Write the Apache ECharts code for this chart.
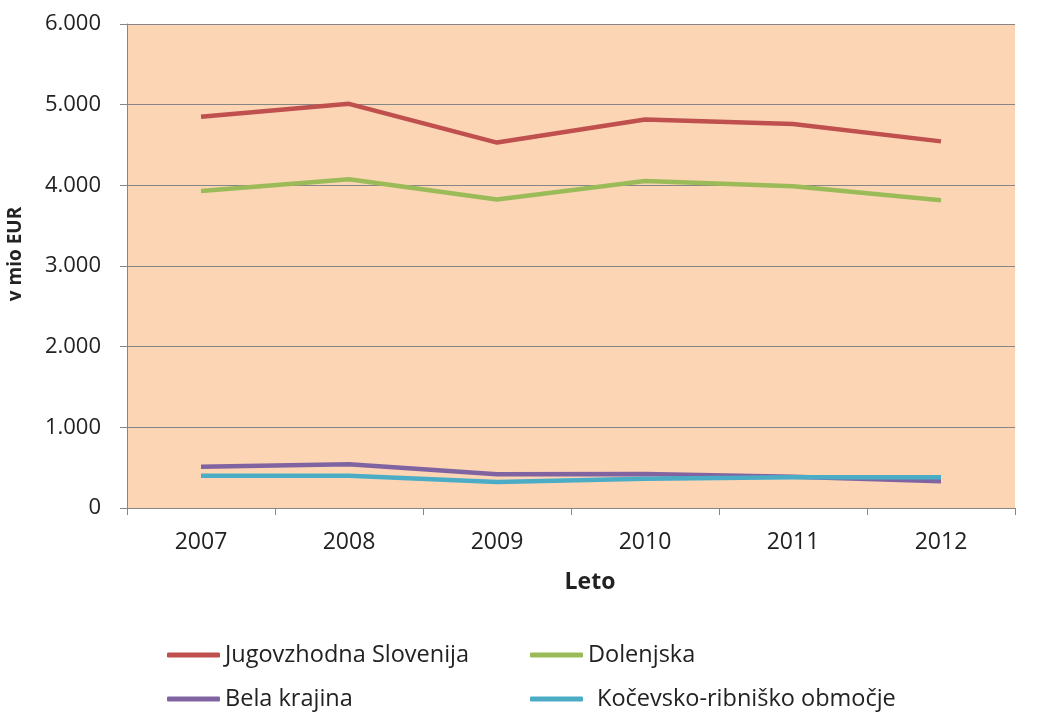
<!DOCTYPE html>
<html>
<head>
<meta charset="utf-8">
<script src="https://cdn.jsdelivr.net/npm/echarts@6/dist/echarts.min.js"></script>
<style>html,body{margin:0;padding:0;background:#fff}#c{width:1041px;height:714px}</style>
</head>
<body>
<div id="c"></div>
<script>
const years = ['2007','2008','2009','2010','2011','2012'];
const jugovzhodna = [4850, 5010, 4530, 4815, 4760, 4545];
const dolenjska = [3930, 4075, 3825, 4055, 3990, 3815];
const belaKrajina = [512, 541, 418, 421, 388, 331];
const kocevsko = [400, 400, 322, 363, 380, 380];
const seriesNames = ['Jugovzhodna Slovenija', 'Dolenjska', 'Bela krajina', 'Kočevsko-ribniško območje'];
const colors = ['#C0504D', '#9BBB59', '#8064A2', '#4BACC6'];
const yTicks = [0, 1000, 2000, 3000, 4000, 5000, 6000];

const FONT = 'Open Sans';
const chart = echarts.init(document.getElementById('c'));
function fmt(v){ return v === 0 ? '0' : String(v).replace(/\B(?=(\d{3})+(?!\d))/g, '.'); }
const values = [jugovzhodna, dolenjska, belaKrajina, kocevsko];
function legend(i, left, top, extraPad){
  return {
    data: [seriesNames[i]], left: left, top: top, padding: 0,
    icon: 'roundRect', itemWidth: 53, itemHeight: 5,
    textStyle: { fontFamily: FONT, fontSize: 23.5, color: '#222', padding: [0,0,0,extraPad||0] },
    selectedMode: false
  };
}
chart.setOption({
  animation: false,
  grid: { left: 127, right: 26, top: 24, bottom: 206, show: true, backgroundColor: '#FCD5B5', borderWidth: 0 },
  xAxis: {
    type: 'category', data: years, boundaryGap: true,
    axisLine: { lineStyle: { color: '#868686', width: 1 } },
    axisTick: { show: true, length: 7, lineStyle: { color: '#868686' } },
    axisLabel: { fontFamily: FONT, fontSize: 23, color: '#222', margin: 23 }
  },
  yAxis: {
    type: 'value', min: 0, max: 6000, interval: 1000,
    axisLine: { show: true, lineStyle: { color: '#868686', width: 1 } },
    axisTick: { show: true, length: 7, lineStyle: { color: '#868686' } },
    axisLabel: { fontFamily: FONT, fontSize: 22, color: '#222', margin: 26, formatter: fmt },
    splitLine: { lineStyle: { color: '#868686', width: 1 } }
  },
  legend: [
    legend(0, 167, 643),
    legend(1, 530, 643),
    legend(2, 167, 687),
    legend(3, 530, 687, 9)
  ],
  graphic: [
    { type: 'text', x: 590, y: 582, style: { text: 'Leto', font: 'bold 23px "Open Sans"', fill: '#222', align: 'center', verticalAlign: 'middle' } },
    { type: 'text', x: 16, y: 254, rotation: Math.PI/2, style: { text: 'v mio EUR', font: 'bold 19px "Open Sans"', fill: '#222', align: 'center', verticalAlign: 'middle' } }
  ],
  series: values.map((v, i) => ({
    name: seriesNames[i], type: 'line', data: v, symbol: 'none',
    lineStyle: { color: colors[i], width: 4.5 }, itemStyle: { color: colors[i] }
  }))
});
</script>
</body>
</html>
